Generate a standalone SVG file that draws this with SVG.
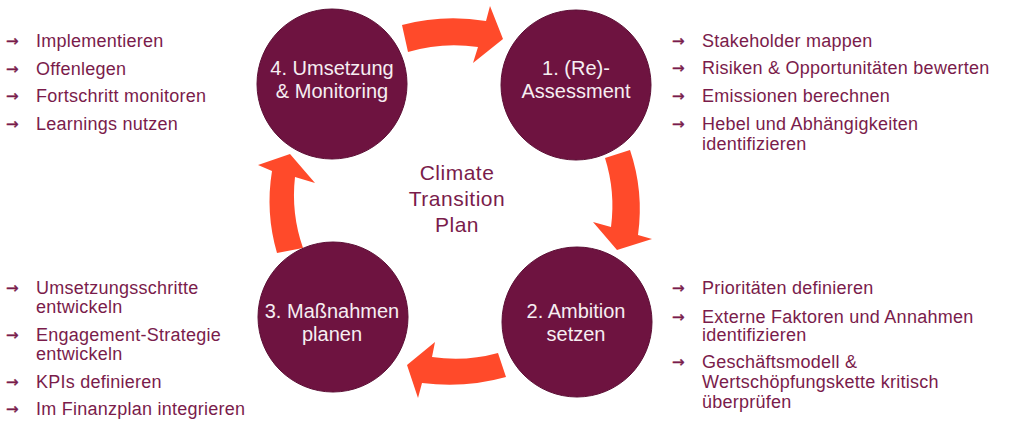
<svg xmlns="http://www.w3.org/2000/svg" width="1024" height="432" viewBox="0 0 1024 432">
  <style>
    .bg { fill: #ffffff; }
    .circle { fill: #6e1340; stroke: #5c0f35; stroke-width: 1; }
    .ctext { font-family: "Liberation Sans", Arial, sans-serif; font-size: 20px; fill: #f6eef2; text-anchor: middle; }
    .center { font-family: "Liberation Sans", Arial, sans-serif; font-size: 21px; fill: #7a1c4b; text-anchor: middle; letter-spacing: 0.5px; }
    .item { font-family: "Liberation Sans", Arial, sans-serif; font-size: 18px; fill: #7a1c4b; letter-spacing: 0.25px; }
    .bullet { font-family: "DejaVu Sans", sans-serif; font-size: 15px; fill: #7a1c4b; stroke: #7a1c4b; stroke-width: 0.4; }
    .arrow { fill: #ff4a2a; }
  </style>
  <rect class="bg" x="0" y="0" width="1024" height="432"/>

  <g id="connectors">
    <path class="arrow" d="M 402,25 A 200 200 0 0 1 486,21 L 490,6 L 503,39 L 473,63 L 478,47 A 160 160 0 0 0 408,52 Z"/>
    <path class="arrow" d="M 605,158 L 630,150 A 185 185 0 0 1 638,235 L 652,239 L 617,250 L 593,222 L 611,227 A 160 160 0 0 0 605,158 Z"/>
    <path class="arrow" d="M 498,353 L 506,377 A 210 210 0 0 1 422,383 L 418,398 L 407,365 L 435,342 L 432,357 A 160 160 0 0 0 498,353 Z"/>
    <path class="arrow" d="M 303,248 L 277,253 A 185 185 0 0 1 272,171 L 258,165 L 290,154 L 315,183 L 295,177 A 160 160 0 0 0 303,248 Z"/>
  </g>

  <g id="node-4">
    <circle class="circle" cx="332" cy="84" r="75"/>
    <text class="ctext" x="332" y="75">4. Umsetzung</text>
    <text class="ctext" x="332" y="97.5">&amp; Monitoring</text>
  </g>
  <g id="node-1">
    <circle class="circle" cx="576" cy="85" r="75"/>
    <text class="ctext" x="576" y="75">1. (Re)-</text>
    <text class="ctext" x="576" y="97.5">Assessment</text>
  </g>
  <g id="node-3">
    <circle class="circle" cx="333" cy="317" r="75"/>
    <text class="ctext" x="332" y="318">3. Maßnahmen</text>
    <text class="ctext" x="332" y="340.5">planen</text>
  </g>
  <g id="node-2">
    <circle class="circle" cx="577" cy="322" r="75"/>
    <text class="ctext" x="576" y="318">2. Ambition</text>
    <text class="ctext" x="576" y="340.5">setzen</text>
  </g>

  <g id="center-label">
    <text class="center" x="457" y="180">Climate</text>
    <text class="center" x="457" y="206">Transition</text>
    <text class="center" x="457" y="232">Plan</text>
  </g>

  <g id="list-4">
    <text class="bullet" x="6" y="46">→</text>
    <text class="item" x="36" y="47">Implementieren</text>
    <text class="bullet" x="6" y="73.5">→</text>
    <text class="item" x="36" y="74.5">Offenlegen</text>
    <text class="bullet" x="6" y="101">→</text>
    <text class="item" x="36" y="102">Fortschritt monitoren</text>
    <text class="bullet" x="6" y="128.5">→</text>
    <text class="item" x="36" y="129.5">Learnings nutzen</text>
  </g>

  <g id="list-1">
    <text class="bullet" x="672" y="46">→</text>
    <text class="item" x="702" y="47">Stakeholder mappen</text>
    <text class="bullet" x="672" y="73">→</text>
    <text class="item" x="702" y="74">Risiken &amp; Opportunitäten bewerten</text>
    <text class="bullet" x="672" y="101">→</text>
    <text class="item" x="702" y="102">Emissionen berechnen</text>
    <text class="bullet" x="672" y="128.5">→</text>
    <text class="item" x="702" y="129.5">Hebel und Abhängigkeiten</text>
    <text class="item" x="702" y="149.5">identifizieren</text>
  </g>

  <g id="list-3">
    <text class="bullet" x="6" y="293">→</text>
    <text class="item" x="36" y="294">Umsetzungsschritte</text>
    <text class="item" x="36" y="313">entwickeln</text>
    <text class="bullet" x="6" y="339.5">→</text>
    <text class="item" x="36" y="340.5">Engagement-Strategie</text>
    <text class="item" x="36" y="360">entwickeln</text>
    <text class="bullet" x="6" y="386.5">→</text>
    <text class="item" x="36" y="387.5">KPIs definieren</text>
    <text class="bullet" x="6" y="414">→</text>
    <text class="item" x="36" y="415">Im Finanzplan integrieren</text>
  </g>

  <g id="list-2">
    <text class="bullet" x="672" y="293">→</text>
    <text class="item" x="702" y="294">Prioritäten definieren</text>
    <text class="bullet" x="672" y="321.5">→</text>
    <text class="item" x="702" y="322.5">Externe Faktoren und Annahmen</text>
    <text class="item" x="702" y="341">identifizieren</text>
    <text class="bullet" x="672" y="367">→</text>
    <text class="item" x="702" y="368">Geschäftsmodell &amp;</text>
    <text class="item" x="702" y="388">Wertschöpfungskette kritisch</text>
    <text class="item" x="702" y="407.5">überprüfen</text>
  </g>
</svg>
